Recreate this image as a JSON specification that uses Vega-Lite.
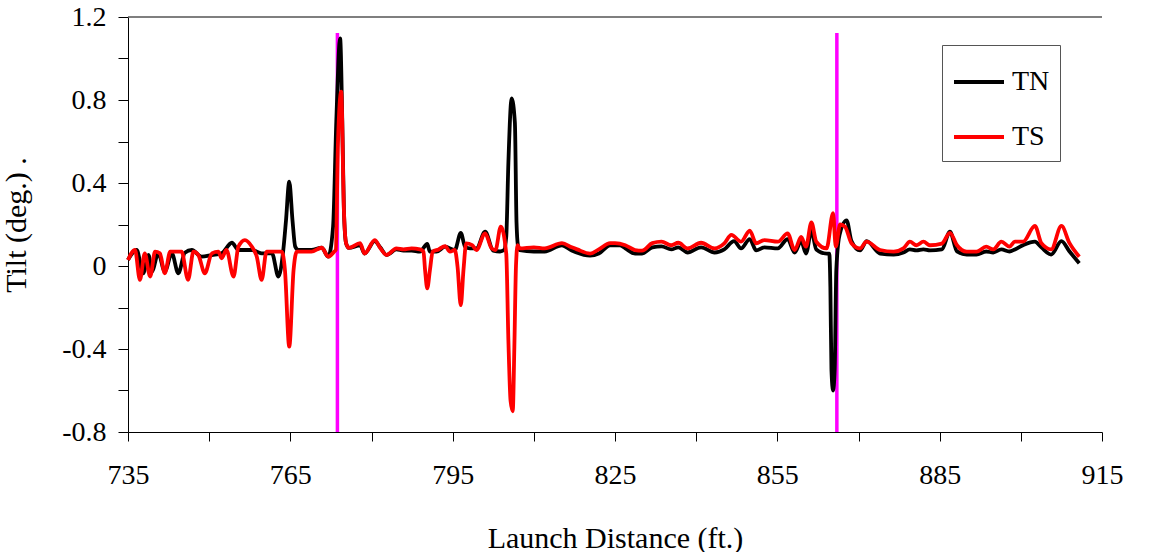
{
  "$schema": "https://vega.github.io/schema/vega-lite/v6.json",
  "width": 974,
  "height": 415,
  "autosize": "none",
  "padding": {"left": 128, "top": 17, "right": 56, "bottom": 120},
  "background": "white",
  "config": {
    "view": {"stroke": null},
    "font": "Liberation Serif",
    "axis": {"grid": false, "domainColor": "black", "tickColor": "black", "labelColor": "black", "titleColor": "black", "labelFont": "Liberation Serif", "titleFont": "Liberation Serif", "titleFontWeight": "normal"},
    "legend": {"labelFont": "Liberation Serif", "titleFont": "Liberation Serif"}
  },
  "datasets": {
    "marks": [
      {"x": 773.7, "lo": -0.8, "hi": 1.123},
      {"x": 866.0, "lo": -0.8, "hi": 1.123}
    ],
    "tilt": [
      {"x": 735.0, "s": "TN", "v": 0.03},
      {"x": 736.6, "s": "TN", "v": 0.077},
      {"x": 737.8, "s": "TN", "v": -0.035},
      {"x": 738.8, "s": "TN", "v": 0.053},
      {"x": 739.4, "s": "TN", "v": -0.027},
      {"x": 740.6, "s": "TN", "v": 0.061},
      {"x": 741.8, "s": "TN", "v": -0.027},
      {"x": 743.1, "s": "TN", "v": 0.061},
      {"x": 744.3, "s": "TN", "v": -0.035},
      {"x": 745.5, "s": "TN", "v": 0.064},
      {"x": 746.8, "s": "TN", "v": 0.077},
      {"x": 748.6, "s": "TN", "v": 0.045},
      {"x": 750.5, "s": "TN", "v": 0.053},
      {"x": 752.3, "s": "TN", "v": 0.061},
      {"x": 754.2, "s": "TN", "v": 0.112},
      {"x": 755.4, "s": "TN", "v": 0.077},
      {"x": 757.9, "s": "TN", "v": 0.077},
      {"x": 759.7, "s": "TN", "v": 0.061},
      {"x": 761.6, "s": "TN", "v": 0.061},
      {"x": 762.8, "s": "TN", "v": -0.051},
      {"x": 763.7, "s": "TN", "v": 0.077},
      {"x": 764.2, "s": "TN", "v": 0.22},
      {"x": 764.8, "s": "TN", "v": 0.406},
      {"x": 765.4, "s": "TN", "v": 0.22},
      {"x": 765.9, "s": "TN", "v": 0.093},
      {"x": 766.5, "s": "TN", "v": 0.077},
      {"x": 768.9, "s": "TN", "v": 0.077},
      {"x": 770.8, "s": "TN", "v": 0.088},
      {"x": 772.0, "s": "TN", "v": 0.045},
      {"x": 772.9, "s": "TN", "v": 0.19},
      {"x": 773.5, "s": "TN", "v": 0.7},
      {"x": 774.2, "s": "TN", "v": 1.097},
      {"x": 774.6, "s": "TN", "v": 0.7},
      {"x": 774.9, "s": "TN", "v": 0.27},
      {"x": 775.3, "s": "TN", "v": 0.11},
      {"x": 775.8, "s": "TN", "v": 0.087},
      {"x": 777.9, "s": "TN", "v": 0.1},
      {"x": 778.7, "s": "TN", "v": 0.06},
      {"x": 780.6, "s": "TN", "v": 0.12},
      {"x": 781.6, "s": "TN", "v": 0.09},
      {"x": 782.8, "s": "TN", "v": 0.053},
      {"x": 784.6, "s": "TN", "v": 0.08},
      {"x": 785.9, "s": "TN", "v": 0.074},
      {"x": 787.4, "s": "TN", "v": 0.074},
      {"x": 788.95, "s": "TN", "v": 0.069},
      {"x": 790.3, "s": "TN", "v": 0.106},
      {"x": 790.8, "s": "TN", "v": 0.069},
      {"x": 792.0, "s": "TN", "v": 0.069},
      {"x": 793.6, "s": "TN", "v": 0.093},
      {"x": 795.4, "s": "TN", "v": 0.077},
      {"x": 796.5, "s": "TN", "v": 0.16},
      {"x": 797.3, "s": "TN", "v": 0.093},
      {"x": 798.2, "s": "TN", "v": 0.085},
      {"x": 799.4, "s": "TN", "v": 0.085},
      {"x": 801.0, "s": "TN", "v": 0.165},
      {"x": 802.5, "s": "TN", "v": 0.074},
      {"x": 803.75, "s": "TN", "v": 0.07},
      {"x": 804.5, "s": "TN", "v": 0.077},
      {"x": 804.9, "s": "TN", "v": 0.14},
      {"x": 805.3, "s": "TN", "v": 0.5},
      {"x": 805.9, "s": "TN", "v": 0.808},
      {"x": 806.5, "s": "TN", "v": 0.69},
      {"x": 806.8, "s": "TN", "v": 0.21},
      {"x": 807.1, "s": "TN", "v": 0.093},
      {"x": 807.4, "s": "TN", "v": 0.077},
      {"x": 810.0, "s": "TN", "v": 0.07},
      {"x": 812.0, "s": "TN", "v": 0.07},
      {"x": 815.2, "s": "TN", "v": 0.1},
      {"x": 817.0, "s": "TN", "v": 0.075},
      {"x": 820.4, "s": "TN", "v": 0.05},
      {"x": 822.0, "s": "TN", "v": 0.06},
      {"x": 824.1, "s": "TN", "v": 0.1},
      {"x": 825.9, "s": "TN", "v": 0.1},
      {"x": 826.9, "s": "TN", "v": 0.085},
      {"x": 828.7, "s": "TN", "v": 0.06},
      {"x": 830.0, "s": "TN", "v": 0.06},
      {"x": 831.9, "s": "TN", "v": 0.09},
      {"x": 833.6, "s": "TN", "v": 0.095},
      {"x": 835.4, "s": "TN", "v": 0.08},
      {"x": 836.7, "s": "TN", "v": 0.09},
      {"x": 838.4, "s": "TN", "v": 0.065},
      {"x": 840.9, "s": "TN", "v": 0.09},
      {"x": 843.4, "s": "TN", "v": 0.065},
      {"x": 845.2, "s": "TN", "v": 0.08},
      {"x": 847.0, "s": "TN", "v": 0.12},
      {"x": 848.3, "s": "TN", "v": 0.085},
      {"x": 849.9, "s": "TN", "v": 0.13},
      {"x": 851.1, "s": "TN", "v": 0.075},
      {"x": 852.6, "s": "TN", "v": 0.09},
      {"x": 855.1, "s": "TN", "v": 0.085},
      {"x": 856.9, "s": "TN", "v": 0.13},
      {"x": 858.2, "s": "TN", "v": 0.065},
      {"x": 859.4, "s": "TN", "v": 0.12},
      {"x": 860.3, "s": "TN", "v": 0.06},
      {"x": 861.3, "s": "TN", "v": 0.17},
      {"x": 862.2, "s": "TN", "v": 0.08},
      {"x": 864.1, "s": "TN", "v": 0.06},
      {"x": 864.6, "s": "TN", "v": 0.06},
      {"x": 864.8, "s": "TN", "v": -0.1},
      {"x": 865.0, "s": "TN", "v": -0.5},
      {"x": 865.3, "s": "TN", "v": -0.6},
      {"x": 865.6, "s": "TN", "v": -0.5},
      {"x": 865.9, "s": "TN", "v": -0.02},
      {"x": 866.5, "s": "TN", "v": 0.15},
      {"x": 867.8, "s": "TN", "v": 0.22},
      {"x": 868.7, "s": "TN", "v": 0.12},
      {"x": 870.3, "s": "TN", "v": 0.075},
      {"x": 871.5, "s": "TN", "v": 0.12},
      {"x": 874.0, "s": "TN", "v": 0.06},
      {"x": 876.5, "s": "TN", "v": 0.055},
      {"x": 878.3, "s": "TN", "v": 0.065},
      {"x": 879.5, "s": "TN", "v": 0.08},
      {"x": 880.7, "s": "TN", "v": 0.075},
      {"x": 882.0, "s": "TN", "v": 0.08},
      {"x": 883.2, "s": "TN", "v": 0.075},
      {"x": 885.4, "s": "TN", "v": 0.08},
      {"x": 886.9, "s": "TN", "v": 0.165},
      {"x": 888.2, "s": "TN", "v": 0.07},
      {"x": 890.0, "s": "TN", "v": 0.055},
      {"x": 891.8, "s": "TN", "v": 0.055},
      {"x": 893.6, "s": "TN", "v": 0.07},
      {"x": 894.9, "s": "TN", "v": 0.065},
      {"x": 896.4, "s": "TN", "v": 0.08},
      {"x": 897.9, "s": "TN", "v": 0.07},
      {"x": 898.9, "s": "TN", "v": 0.08},
      {"x": 900.4, "s": "TN", "v": 0.1},
      {"x": 902.6, "s": "TN", "v": 0.117},
      {"x": 903.8, "s": "TN", "v": 0.09},
      {"x": 905.6, "s": "TN", "v": 0.055},
      {"x": 907.5, "s": "TN", "v": 0.12},
      {"x": 909.0, "s": "TN", "v": 0.07},
      {"x": 910.8, "s": "TN", "v": 0.013},
      {"x": 735.0, "s": "TS", "v": 0.029},
      {"x": 736.3, "s": "TS", "v": 0.077},
      {"x": 737.2, "s": "TS", "v": -0.067},
      {"x": 738.1, "s": "TS", "v": 0.061},
      {"x": 739.1, "s": "TS", "v": -0.051},
      {"x": 740.0, "s": "TS", "v": 0.069},
      {"x": 740.9, "s": "TS", "v": 0.061},
      {"x": 741.8, "s": "TS", "v": -0.035},
      {"x": 742.8, "s": "TS", "v": 0.069},
      {"x": 743.7, "s": "TS", "v": 0.069},
      {"x": 744.9, "s": "TS", "v": 0.069},
      {"x": 746.1, "s": "TS", "v": -0.067},
      {"x": 747.1, "s": "TS", "v": 0.069},
      {"x": 748.0, "s": "TS", "v": 0.053},
      {"x": 749.2, "s": "TS", "v": -0.035},
      {"x": 750.5, "s": "TS", "v": 0.061},
      {"x": 751.7, "s": "TS", "v": 0.069},
      {"x": 752.3, "s": "TS", "v": 0.037},
      {"x": 753.2, "s": "TS", "v": 0.077},
      {"x": 754.5, "s": "TS", "v": -0.051},
      {"x": 755.4, "s": "TS", "v": 0.093},
      {"x": 756.6, "s": "TS", "v": 0.125},
      {"x": 757.9, "s": "TS", "v": 0.093},
      {"x": 758.8, "s": "TS", "v": 0.045},
      {"x": 759.7, "s": "TS", "v": -0.067},
      {"x": 760.6, "s": "TS", "v": 0.069},
      {"x": 761.6, "s": "TS", "v": 0.069},
      {"x": 763.4, "s": "TS", "v": 0.069},
      {"x": 764.0, "s": "TS", "v": -0.019},
      {"x": 764.8, "s": "TS", "v": -0.389},
      {"x": 765.6, "s": "TS", "v": -0.019},
      {"x": 766.2, "s": "TS", "v": 0.069},
      {"x": 768.9, "s": "TS", "v": 0.069},
      {"x": 770.8, "s": "TS", "v": 0.088},
      {"x": 772.0, "s": "TS", "v": 0.045},
      {"x": 773.1, "s": "TS", "v": 0.069},
      {"x": 773.4, "s": "TS", "v": 0.077},
      {"x": 773.8, "s": "TS", "v": 0.59},
      {"x": 774.4, "s": "TS", "v": 0.84},
      {"x": 774.9, "s": "TS", "v": 0.27},
      {"x": 775.3, "s": "TS", "v": 0.11},
      {"x": 775.8, "s": "TS", "v": 0.087},
      {"x": 777.9, "s": "TS", "v": 0.11},
      {"x": 778.7, "s": "TS", "v": 0.06},
      {"x": 780.6, "s": "TS", "v": 0.125},
      {"x": 781.6, "s": "TS", "v": 0.087},
      {"x": 782.8, "s": "TS", "v": 0.053},
      {"x": 784.6, "s": "TS", "v": 0.085},
      {"x": 785.9, "s": "TS", "v": 0.08},
      {"x": 787.4, "s": "TS", "v": 0.085},
      {"x": 788.95, "s": "TS", "v": 0.08},
      {"x": 789.6, "s": "TS", "v": 0.069},
      {"x": 789.9, "s": "TS", "v": -0.019},
      {"x": 790.3, "s": "TS", "v": -0.108},
      {"x": 790.8, "s": "TS", "v": -0.019},
      {"x": 791.3, "s": "TS", "v": 0.069},
      {"x": 792.4, "s": "TS", "v": 0.08},
      {"x": 793.6, "s": "TS", "v": 0.096},
      {"x": 794.5, "s": "TS", "v": 0.069},
      {"x": 795.4, "s": "TS", "v": 0.077},
      {"x": 795.9, "s": "TS", "v": -0.003},
      {"x": 796.5, "s": "TS", "v": -0.189},
      {"x": 797.0, "s": "TS", "v": -0.019},
      {"x": 797.5, "s": "TS", "v": 0.109},
      {"x": 798.6, "s": "TS", "v": 0.101},
      {"x": 799.4, "s": "TS", "v": 0.077},
      {"x": 801.0, "s": "TS", "v": 0.157},
      {"x": 802.2, "s": "TS", "v": 0.085},
      {"x": 802.9, "s": "TS", "v": 0.077},
      {"x": 803.9, "s": "TS", "v": 0.19},
      {"x": 804.9, "s": "TS", "v": 0.06},
      {"x": 805.3, "s": "TS", "v": -0.36},
      {"x": 805.7, "s": "TS", "v": -0.65},
      {"x": 806.1, "s": "TS", "v": -0.7},
      {"x": 806.4, "s": "TS", "v": -0.39},
      {"x": 806.7, "s": "TS", "v": 0.0},
      {"x": 807.0, "s": "TS", "v": 0.1},
      {"x": 807.4, "s": "TS", "v": 0.085},
      {"x": 810.0, "s": "TS", "v": 0.09},
      {"x": 812.0, "s": "TS", "v": 0.085},
      {"x": 815.2, "s": "TS", "v": 0.11},
      {"x": 817.0, "s": "TS", "v": 0.09},
      {"x": 818.0, "s": "TS", "v": 0.08},
      {"x": 820.4, "s": "TS", "v": 0.06},
      {"x": 822.0, "s": "TS", "v": 0.08},
      {"x": 824.1, "s": "TS", "v": 0.11},
      {"x": 825.0, "s": "TS", "v": 0.11},
      {"x": 826.9, "s": "TS", "v": 0.1},
      {"x": 828.7, "s": "TS", "v": 0.077},
      {"x": 830.0, "s": "TS", "v": 0.074},
      {"x": 831.9, "s": "TS", "v": 0.11},
      {"x": 833.6, "s": "TS", "v": 0.117},
      {"x": 835.4, "s": "TS", "v": 0.1},
      {"x": 836.7, "s": "TS", "v": 0.112},
      {"x": 838.4, "s": "TS", "v": 0.085},
      {"x": 840.9, "s": "TS", "v": 0.112},
      {"x": 843.4, "s": "TS", "v": 0.085},
      {"x": 845.2, "s": "TS", "v": 0.109},
      {"x": 846.5, "s": "TS", "v": 0.15},
      {"x": 848.3, "s": "TS", "v": 0.117},
      {"x": 849.9, "s": "TS", "v": 0.17},
      {"x": 851.1, "s": "TS", "v": 0.109},
      {"x": 852.6, "s": "TS", "v": 0.125},
      {"x": 855.1, "s": "TS", "v": 0.117},
      {"x": 856.9, "s": "TS", "v": 0.157},
      {"x": 858.2, "s": "TS", "v": 0.077},
      {"x": 859.4, "s": "TS", "v": 0.14},
      {"x": 860.3, "s": "TS", "v": 0.093},
      {"x": 861.3, "s": "TS", "v": 0.21},
      {"x": 862.2, "s": "TS", "v": 0.117},
      {"x": 864.1, "s": "TS", "v": 0.085},
      {"x": 865.3, "s": "TS", "v": 0.255},
      {"x": 865.8, "s": "TS", "v": 0.093},
      {"x": 866.6, "s": "TS", "v": 0.2},
      {"x": 867.5, "s": "TS", "v": 0.19},
      {"x": 868.7, "s": "TS", "v": 0.11},
      {"x": 870.3, "s": "TS", "v": 0.085},
      {"x": 871.5, "s": "TS", "v": 0.117},
      {"x": 874.0, "s": "TS", "v": 0.077},
      {"x": 876.5, "s": "TS", "v": 0.069},
      {"x": 878.3, "s": "TS", "v": 0.085},
      {"x": 879.5, "s": "TS", "v": 0.117},
      {"x": 880.7, "s": "TS", "v": 0.1},
      {"x": 882.0, "s": "TS", "v": 0.117},
      {"x": 883.2, "s": "TS", "v": 0.1},
      {"x": 885.4, "s": "TS", "v": 0.108},
      {"x": 886.9, "s": "TS", "v": 0.16},
      {"x": 888.2, "s": "TS", "v": 0.1},
      {"x": 890.0, "s": "TS", "v": 0.069},
      {"x": 891.8, "s": "TS", "v": 0.069},
      {"x": 893.6, "s": "TS", "v": 0.093},
      {"x": 894.9, "s": "TS", "v": 0.08},
      {"x": 896.4, "s": "TS", "v": 0.117},
      {"x": 897.9, "s": "TS", "v": 0.093},
      {"x": 898.9, "s": "TS", "v": 0.117},
      {"x": 900.4, "s": "TS", "v": 0.117},
      {"x": 902.6, "s": "TS", "v": 0.193},
      {"x": 903.8, "s": "TS", "v": 0.11},
      {"x": 905.6, "s": "TS", "v": 0.08},
      {"x": 907.5, "s": "TS", "v": 0.193},
      {"x": 909.0, "s": "TS", "v": 0.11},
      {"x": 910.8, "s": "TS", "v": 0.045}
    ]
  },
  "layer": [
    {
      "data": {"values": [{"top": 1.2}]},
      "mark": {"type": "rule", "color": "#555555", "strokeWidth": 1.5},
      "encoding": {
        "y": {"field": "top", "type": "quantitative", "title": "Tilt (deg.) .", "scale": {"domain": [-0.8, 1.2], "nice": false, "zero": false}}
      }
    },
    {
      "data": {"name": "marks"},
      "mark": {"type": "rule", "color": "#FF00FF", "strokeWidth": 3.5},
      "encoding": {
        "x": {"field": "x", "type": "quantitative", "title": "Launch Distance (ft.)", "scale": {"domain": [735, 915], "nice": false, "zero": false}},
        "y": {"field": "lo", "type": "quantitative", "title": "Tilt (deg.) .", "scale": {"domain": [-0.8, 1.2], "nice": false, "zero": false}},
        "y2": {"field": "hi"}
      }
    },
    {
      "data": {"name": "tilt"},
      "mark": {"type": "line", "strokeWidth": 3.8, "interpolate": "monotone"},
      "encoding": {
        "x": {
          "field": "x", "type": "quantitative", "title": "Launch Distance (ft.)",
          "scale": {"domain": [735, 915], "nice": false, "zero": false},
          "axis": {
            "values": [735, 750, 765, 780, 795, 810, 825, 840, 855, 870, 885, 900, 915],
            "labelExpr": "(datum.value - 735) % 30 == 0 ? toString(datum.value) : ''",
            "labelFontSize": 28, "labelPadding": 20, "tickSize": 9,
            "titleFontSize": 30, "titlePadding": 34, "labelFlush": false,
            "encode": {"ticks": {"update": {"y2": {"signal": "(datum.value - 735) % 30 == 0 ? 9 : -7"}}}}
          }
        },
        "y": {
          "field": "v", "type": "quantitative", "title": "Tilt (deg.) .",
          "scale": {"domain": [-0.8, 1.2], "nice": false, "zero": false},
          "axis": {
            "values": [-0.8, -0.6, -0.4, -0.2, 0, 0.2, 0.4, 0.6, 0.8, 1.0, 1.2],
            "labelExpr": "round(datum.value * 5) % 2 != 0 ? '' : (abs(datum.value) < 0.001 ? '0' : (datum.value < 0 ? '-' : '') + format(abs(datum.value), '.1f'))",
            "labelFontSize": 28, "labelPadding": 12, "tickSize": 10,
            "titleFontSize": 30, "titlePadding": 30, "labelFlush": false,
            "encode": {"ticks": {"update": {"x2": {"signal": "round(datum.value * 5) % 2 == 0 ? -10 : 7"}}}}
          }
        },
        "color": {
          "field": "s", "type": "nominal",
          "scale": {"domain": ["TN", "TS"], "range": ["#000000", "#FF0000"]},
          "legend": {
            "orient": "none", "legendX": 814, "legendY": 28,
            "title": null,
            "padding": 10, "strokeColor": "#555555", "fillColor": "white",
            "symbolType": "stroke", "symbolSize": 2500, "symbolStrokeWidth": 4,
            "labelFontSize": 28, "labelColor": "black",
            "labelOffset": 6, "rowPadding": 14
          }
        }
      }
    }
  ]
}
